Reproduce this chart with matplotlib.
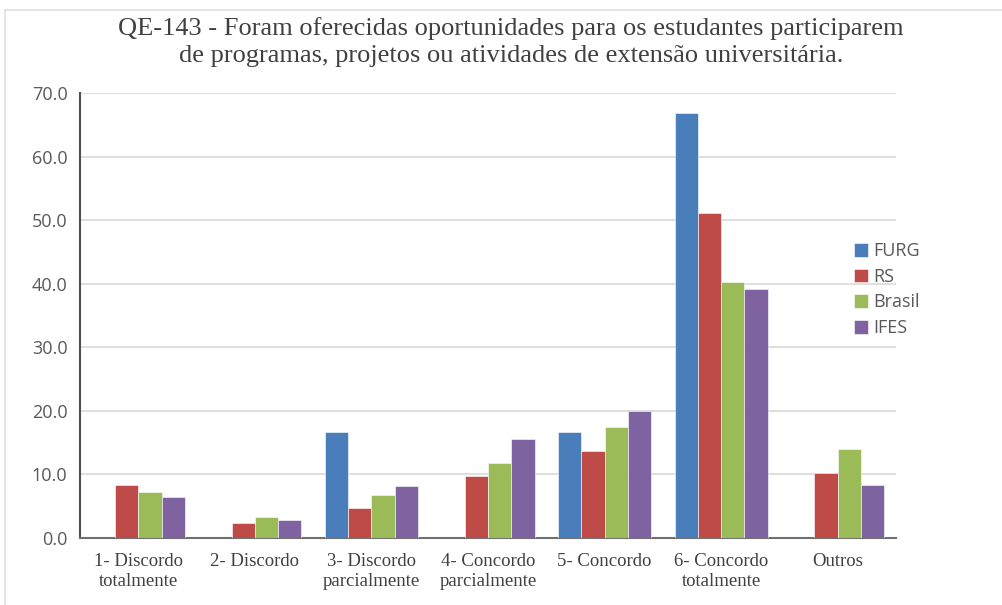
import matplotlib
matplotlib.use("Agg")
import matplotlib.pyplot as plt
from matplotlib.lines import Line2D
import numpy as np

categories = ["1- Discordo\ntotalmente", "2- Discordo", "3- Discordo\nparcialmente",
              "4- Concordo\nparcialmente", "5- Concordo", "6- Concordo\ntotalmente", "Outros"]
series_names = ["FURG", "RS", "Brasil", "IFES"]
furg = [0.0, 0.0, 16.7, 0.0, 16.7, 66.8, 0.0]
rs = [8.4, 2.3, 4.7, 9.8, 13.7, 51.2, 10.3]
brasil = [7.2, 3.3, 6.7, 11.8, 17.4, 40.2, 14.0]
ifes = [6.4, 2.9, 8.2, 15.5, 19.9, 39.1, 8.4]
yticks = [0, 10, 20, 30, 40, 50, 60, 70]
title = ("QE-143 - Foram oferecidas oportunidades para os estudantes participarem\n"
         "de programas, projetos ou atividades de extensão universitária.")

colors = ["#4a7ebb", "#be4b48", "#9bbb59", "#7f63a1"]
values = [furg, rs, brasil, ifes]

fig = plt.figure(figsize=(10.02, 6.05), dpi=100)
ax = fig.add_axes([80/1002, 1-538/605, (896-80)/1002, (538-93)/605])

x = np.arange(len(categories))
w = 0.2
for i, (name, vals, c) in enumerate(zip(series_names, values, colors)):
    ax.bar(x + (i - 1.5) * w, vals, width=w, color=c, label=name, zorder=3,
           edgecolor="white", linewidth=0.4)

ax.set_xlim(-0.5, len(categories) - 0.5)
ax.set_ylim(0, 70)
ax.set_yticks(yticks)
ax.set_yticklabels([f"{v:.1f}" for v in yticks], fontfamily="Open Sans", fontsize=13,
                   color="#595959")
ax.set_xticks(x)
ax.set_xticklabels(categories, fontfamily="Liberation Serif", fontsize=13.5,
                   color="#404040", linespacing=1.2)
ax.tick_params(axis="x", length=0, pad=11)
ax.tick_params(axis="y", length=0, pad=9)
ax.grid(axis="y", color="#d9d9d9", linewidth=1.2, zorder=0)
for s in ["top", "right"]:
    ax.spines[s].set_visible(False)
ax.spines["left"].set_color("#505050")
ax.spines["left"].set_linewidth(1.5)
ax.spines["bottom"].set_color("#707070")
ax.spines["bottom"].set_linewidth(1.5)

leg = fig.legend(loc="upper left", bbox_to_anchor=(838/1002, 1-226/605), frameon=False,
                 prop={"family": "Open Sans", "size": 13}, handlelength=0.75,
                 handleheight=0.8, handletextpad=0.3, labelspacing=0.42)
for t in leg.get_texts():
    t.set_color("#595959")

fig.text(511/1002, 1-42/605, title, ha="center", va="center",
         fontfamily="Liberation Serif", fontsize=19, color="#404040", linespacing=1.3)

fig.add_artist(Line2D([5/1002, 1], [1-10/605, 1-10/605], color="#e0e0e0", linewidth=1.2))
fig.add_artist(Line2D([5/1002, 5/1002], [0, 1-10/605], color="#e0e0e0", linewidth=1.2))

fig.savefig("out.png", dpi=100)
